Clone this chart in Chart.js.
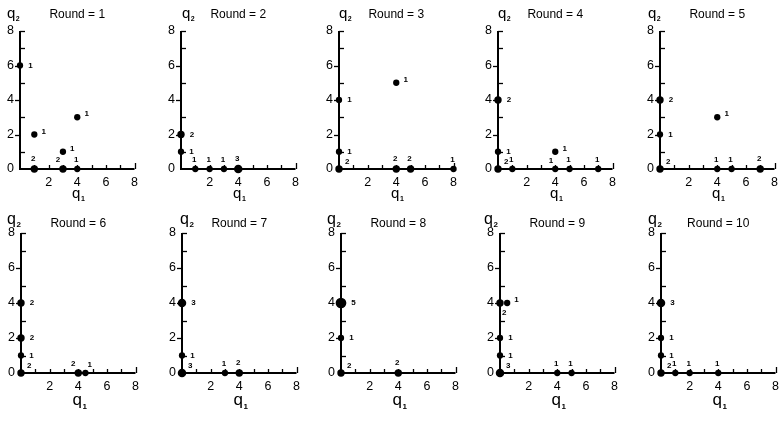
<!DOCTYPE html>
<html>
<head>
<meta charset="utf-8">
<script src="https://cdn.jsdelivr.net/npm/chart.js@4.4.0/dist/chart.umd.min.js"></script>
<style>
  html, body { margin: 0; padding: 0; background: #fff; }
  #wrap { position: relative; width: 784px; height: 423px; overflow: hidden; }
  #wrap canvas { position: absolute; }
</style>
</head>
<body>
<div id="wrap"></div>
<script>
// 每一轮的点：q1 坐标、q2 坐标、人数
const roundNames = ['Round = 1', 'Round = 2', 'Round = 3', 'Round = 4', 'Round = 5',
                    'Round = 6', 'Round = 7', 'Round = 8', 'Round = 9', 'Round = 10'];

const q1Values = [
    [0, 1, 4, 3, 1, 3, 4],
    [0, 0, 1, 2, 3, 4],
    [0, 4, 0, 0, 4, 5, 8],
    [0, 0, 0, 1, 4, 4, 5, 7],
    [0, 0, 0, 4, 4, 5, 7],
    [0, 0, 0, 0, 4, 4.5],
    [0, 0, 0, 3, 4],
    [0, 0, 0, 4],
    [0, 0.5, 0, 0, 0, 4, 5],
    [0, 0, 0, 0, 1, 2, 4]
];

const q2Values = [
    [6, 2, 3, 1, 0, 0, 0],
    [2, 1, 0, 0, 0, 0],
    [4, 5, 1, 0, 0, 0, 0],
    [4, 1, 0, 0, 1, 0, 0, 0],
    [4, 2, 0, 3, 0, 0, 0],
    [4, 2, 1, 0, 0, 0],
    [4, 1, 0, 0, 0],
    [4, 2, 0, 0],
    [4, 4, 2, 1, 0, 0, 0],
    [4, 2, 1, 0, 0, 0, 0]
];

const counts = [
    [1, 1, 1, 1, 2, 2, 1],
    [2, 1, 1, 1, 1, 3],
    [1, 1, 1, 2, 2, 2, 1],
    [2, 1, 2, 1, 1, 1, 1, 1],
    [2, 1, 2, 1, 1, 1, 2],
    [2, 2, 1, 2, 2, 1],
    [3, 1, 3, 1, 2],
    [5, 1, 2, 2],
    [2, 1, 1, 1, 3, 1, 1],
    [3, 1, 1, 2, 1, 1, 1]
];

// 刻度标签
const xTickLabels = [2, 4, 6, 8];
const yTickLabels = [0, 2, 4, 6, 8];

// 版面位置（页面坐标）
const plotLefts = [[20, 181, 339, 498, 660], [21, 182, 341, 500, 661]];
const q2Shift = [[-13, 1, 0, 0, -12], [-14, -2, -14, -16, -13]];
const rows = [
    { top: 0, height: 211, plotTop: 31, plotBottom: 169, titleY: 18, q2Y: 17.5, q2Size: 15, q1Y: 198, q1Size: 15 },
    { top: 211, height: 212, plotTop: 22, plotBottom: 162, titleY: 15.5, q2Y: 12.8, q2Size: 16, q1Y: 194, q1Size: 17 }
];
const plotWidth = 120;
const FONT = "'Liberation Sans', Arial, sans-serif";

Chart.defaults.font.family = FONT;
Chart.defaults.color = '#000';

// 画 q 加下标
function drawSubLabel(ctx, x, y, size, sub) {
    ctx.font = size + 'px ' + FONT;
    ctx.textAlign = 'left';
    ctx.textBaseline = 'alphabetic';
    ctx.fillText('q', x, y);
    const w = ctx.measureText('q').width;
    ctx.font = 'bold ' + Math.round(size * 0.47) + 'px ' + FONT;
    ctx.fillText(sub, x + w + 0.5, y + size * 0.22);
}

// 坐标轴、刻度、标题和人数标签
const panelDecor = {
    id: 'panelDecor',
    beforeDatasetsDraw(chart) {
        const { ctx, chartArea: a, scales: { x, y } } = chart;
        ctx.save();
        ctx.strokeStyle = '#000';
        ctx.lineWidth = 2;
        ctx.beginPath();
        ctx.moveTo(a.left, a.top);
        ctx.lineTo(a.left, a.bottom);
        ctx.lineTo(a.right, a.bottom);
        ctx.stroke();
        ctx.lineWidth = 1.3;
        for (let k = 1; k <= 8; k++) {
            const px = Math.round(x.getPixelForValue(k)) + 0.5;
            ctx.beginPath();
            ctx.moveTo(px, a.bottom);
            ctx.lineTo(px, a.bottom - (k === 8 ? 6 : 4));
            ctx.stroke();
            const py = Math.round(y.getPixelForValue(k)) + 0.5;
            ctx.beginPath();
            if (k % 2 === 0 && k < 8) {
                ctx.moveTo(a.left - 5, py);
                ctx.lineTo(a.left, py);
            } else {
                ctx.moveTo(a.left, py);
                ctx.lineTo(a.left + 5, py);
            }
            ctx.stroke();
        }
        ctx.restore();
    },
    afterDatasetsDraw(chart, args, opts) {
        const { ctx, chartArea: a } = chart;
        const meta = chart.getDatasetMeta(0);
        const data = chart.data.datasets[0].data;
        ctx.save();
        ctx.fillStyle = '#000';
        ctx.font = 'bold 8px ' + FONT;
        ctx.textBaseline = 'alphabetic';
        meta.data.forEach((pt, i) => {
            const raw = data[i];
            const r = pt.options.radius;
            const label = String(raw.n);
            const others = data.filter((d, j) => j !== i);
            if (raw.x === 0 && raw.y === 0) {
                ctx.textAlign = 'left';
                ctx.fillText(label, pt.x + 6, pt.y - 5);
            } else if (raw.y === 0) {
                const above = others.some(d => d.x === raw.x && d.y > 0 && d.y <= 1.5);
                const rightNear = others.some(d => d.y === 0 && d.x > raw.x && d.x - raw.x < 0.75);
                const leftNear = others.some(d => d.y === 0 && d.x < raw.x && raw.x - d.x < 0.75);
                if (above || rightNear) {
                    ctx.textAlign = 'right';
                    ctx.fillText(label, pt.x - r + 1, pt.y - r - 3);
                } else if (leftNear) {
                    ctx.textAlign = 'left';
                    ctx.fillText(label, pt.x + r - 1, pt.y - r - 3);
                } else {
                    ctx.textAlign = 'center';
                    ctx.fillText(label, pt.x - 1, pt.y - r - 4);
                }
            } else if (raw.x === 0) {
                const rightNear = others.some(d => d.y === raw.y && d.x > 0 && d.x <= 1);
                ctx.textAlign = 'left';
                if (rightNear) {
                    ctx.fillText(label, pt.x + 2, pt.y + r + 8);
                } else {
                    ctx.fillText(label, pt.x + r + 5, pt.y + 2);
                }
            } else {
                ctx.textAlign = 'left';
                ctx.fillText(label, pt.x + r + 4, pt.y - 1);
            }
        });

        // 标题
        ctx.font = '12px ' + FONT;
        ctx.textAlign = 'center';
        ctx.fillText(opts.title, (a.left + a.right) / 2, opts.titleY);

        // 轴名
        drawSubLabel(ctx, a.left + opts.q2Shift, opts.q2Y, opts.q2Size, '2');
        ctx.font = opts.q1Size + 'px ' + FONT;
        const qw = ctx.measureText('q').width;
        drawSubLabel(ctx, (a.left + a.right) / 2 - qw / 2 - 1, opts.q1Y, opts.q1Size, '1');
        ctx.restore();
    }
};

const wrap = document.getElementById('wrap');

roundNames.forEach((name, p) => {
    const rowIdx = Math.floor(p / 5);
    const col = p % 5;
    const row = rows[rowIdx];
    const left = plotLefts[rowIdx][col] - 22;
    const width = plotWidth + 22 + 4;

    const canvas = document.createElement('canvas');
    canvas.width = width;
    canvas.height = row.height;
    canvas.style.left = left + 'px';
    canvas.style.top = row.top + 'px';
    canvas.style.width = width + 'px';
    canvas.style.height = row.height + 'px';
    wrap.appendChild(canvas);

    const points = q1Values[p].map((q1, i) => ({ x: q1, y: q2Values[p][i], n: counts[p][i] }));

    new Chart(canvas, {
        type: 'scatter',
        data: {
            datasets: [{
                data: points,
                backgroundColor: '#000',
                borderColor: '#000',
                borderWidth: 0,
                pointRadius: ctx => 2.6 + 0.55 * ctx.raw.n,
                clip: false
            }]
        },
        options: {
            responsive: false,
            animation: false,
            events: [],
            layout: { padding: { top: row.plotTop, right: 4, left: 0, bottom: 0 } },
            plugins: {
                legend: { display: false },
                tooltip: { enabled: false },
                panelDecor: {
                    title: name,
                    titleY: row.titleY,
                    q2Y: row.q2Y,
                    q2Size: row.q2Size,
                    q2Shift: q2Shift[rowIdx][col],
                    q1Y: row.q1Y,
                    q1Size: row.q1Size
                }
            },
            scales: {
                x: {
                    type: 'linear',
                    min: 0,
                    max: 8,
                    grid: { display: false, drawTicks: false },
                    border: { display: false },
                    afterFit: scale => { scale.height = row.height - row.plotBottom; },
                    ticks: {
                        stepSize: 1,
                        autoSkip: false,
                        maxRotation: 0,
                        padding: 6,
                        font: { size: 12.5 },
                        callback: v => xTickLabels.includes(v) ? String(v) : ''
                    }
                },
                y: {
                    type: 'linear',
                    min: 0,
                    max: 8,
                    grid: { display: false, drawTicks: false },
                    border: { display: false },
                    afterFit: scale => { scale.width = 22; },
                    ticks: {
                        stepSize: 1,
                        autoSkip: false,
                        padding: 6,
                        font: { size: 12.5 },
                        callback: v => yTickLabels.includes(v) ? String(v) : ''
                    }
                }
            }
        },
        plugins: [panelDecor]
    });
});
</script>
</body>
</html>
